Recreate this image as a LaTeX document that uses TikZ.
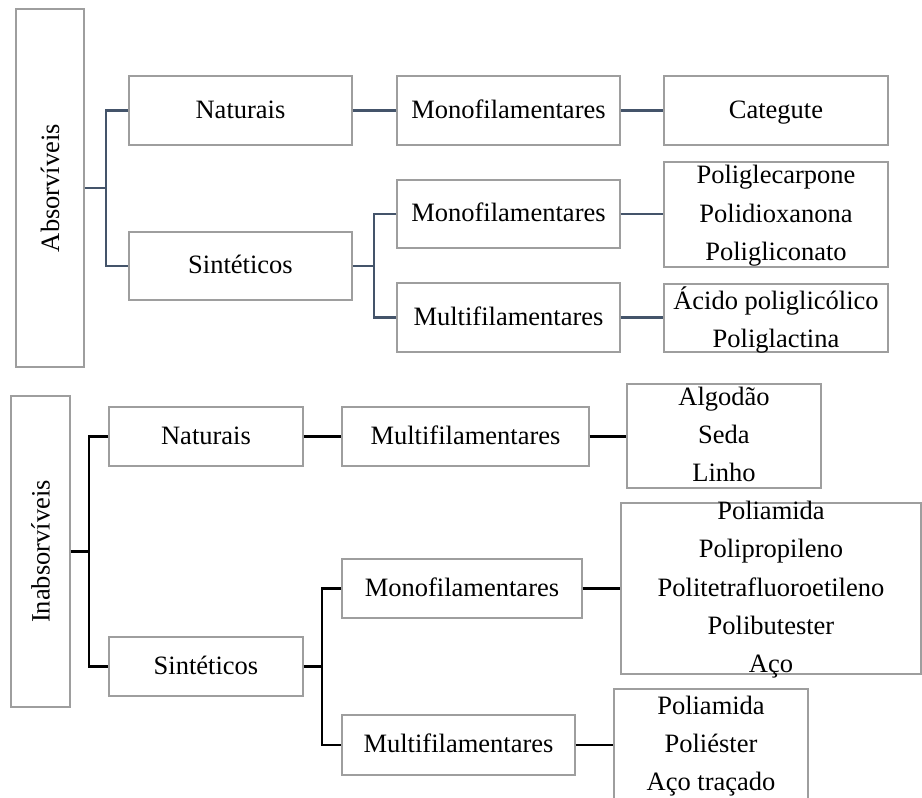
\documentclass[tikz,border=0pt]{standalone}
\usepackage{fontspec}
\setmainfont{Liberation Serif}
\definecolor{boxgray}{RGB}{158,158,158}
\definecolor{slate}{RGB}{68,84,106}
\begin{document}
\begin{tikzpicture}[x=1pt,y=-1pt,
  box/.style={draw=boxgray, line width=1.4pt, inner sep=0pt, fill=white},
  txt/.style={inner sep=0pt, align=center, font=\fontsize{26.5}{38.3}\selectfont},
  connA/.style={draw=slate, line width=2.8pt},
  connB/.style={draw=black, line width=2.8pt}]
\useasboundingbox (0,0) rectangle (922,798);

% ---------- Absorviveis ----------
\node[box, minimum width=68, minimum height=358] (abs) at (50,188) {};
\node[txt, rotate=90] (absT) at (abs.center) {Absorvíveis};

\node[box, minimum width=223, minimum height=69] (natA) at (240.5,110.5) {};
\node[txt] at (natA.center) {\strut Naturais};
\node[box, minimum width=223, minimum height=68] (sinA) at (240.5,266) {};
\node[txt] at (sinA.center) {\strut Sintéticos};

\node[box, minimum width=223, minimum height=69] (monoA1) at (508.5,110.5) {};
\node[txt] at (monoA1.center) {\strut Monofilamentares};
\node[box, minimum width=223, minimum height=68] (monoA2) at (508.5,214) {};
\node[txt] at (monoA2.center) {\strut Monofilamentares};
\node[box, minimum width=223, minimum height=69] (multA) at (508.5,317.5) {};
\node[txt] at (multA.center) {\strut Multifilamentares};

\node[box, minimum width=224, minimum height=69] (catA) at (776,110.5) {};
\node[txt] at (catA.center) {\strut Categute};
\node[box, minimum width=224, minimum height=105] (listA1) at (776,214.5) {};
\node[txt] at (listA1.center) {\strut Poliglecarpone\\\strut Polidioxanona\\\strut Poligliconato};
\node[box, minimum width=224, minimum height=68] (listA2) at (776,318) {};
\node[txt] at ([yshift=-3]listA2.center) {\strut Ácido poliglicólico\\\strut Poliglactina};

\coordinate (jA) at (106,188);
\coordinate (jA2) at (374,266);
\draw[connA] (natA.west) -| (jA) |- (sinA.west);
\draw[connA] (abs.east) -- (jA);
\draw[connA] (natA.east) -- (monoA1.west);
\draw[connA] (monoA1.east) -- (catA.west);
\draw[connA] (monoA2.west) -| (jA2) |- (multA.west);
\draw[connA] (sinA.east) -- (jA2);
\draw[connA] (monoA2.east) -- (monoA2.east -| listA1.west);
\draw[connA] (multA.east) -- (multA.east -| listA2.west);

% ---------- Inabsorviveis ----------
\node[box, minimum width=59, minimum height=311] (ina) at (40.5,551.5) {};
\node[txt, rotate=90] (inaT) at (ina.center) {Inabsorvíveis};

\node[box, minimum width=194, minimum height=59] (natB) at (206,436.5) {};
\node[txt] at (natB.center) {\strut Naturais};
\node[box, minimum width=194, minimum height=59] (sinB) at (206,666.5) {};
\node[txt] at (sinB.center) {\strut Sintéticos};

\node[box, minimum width=247, minimum height=59] (multB1) at (465.5,436.5) {};
\node[txt] at (multB1.center) {\strut Multifilamentares};
\node[box, minimum width=240, minimum height=59] (monoB) at (462,588.5) {};
\node[txt] at (monoB.center) {\strut Monofilamentares};
\node[box, minimum width=233, minimum height=60] (multB2) at (458.5,745) {};
\node[txt] at (multB2.center) {\strut Multifilamentares};

\node[box, minimum width=194, minimum height=104] (listB1) at (724,436) {};
\node[txt] at (listB1.center) {\strut Algodão\\\strut Seda\\\strut Linho};
\node[box, minimum width=300, minimum height=171] (listB2) at (771,588.5) {};
\node[txt] at (listB2.center) {\strut Poliamida\\\strut Polipropileno\\\strut Politetrafluoroetileno\\\strut Polibutester\\\strut Aço};
\node[box, minimum width=194, minimum height=112] (listB3) at (711,745) {};
\node[txt] at (listB3.center) {\strut Poliamida\\\strut Poliéster\\\strut Aço traçado};

\coordinate (jB) at (89,551.5);
\coordinate (jB2) at (322,666.5);
\draw[connB] (natB.west) -| (jB) |- (sinB.west);
\draw[connB] (ina.east) -- (jB);
\draw[connB] (natB.east) -- (multB1.west);
\draw[connB] (multB1.east) -- (multB1.east -| listB1.west);
\draw[connB] (monoB.west) -| (jB2) |- (multB2.west);
\draw[connB] (sinB.east) -- (jB2);
\draw[connB] (monoB.east) -- (listB2.west);
\draw[connB] (multB2.east) -- (listB3.west);
\end{tikzpicture}
\end{document}
